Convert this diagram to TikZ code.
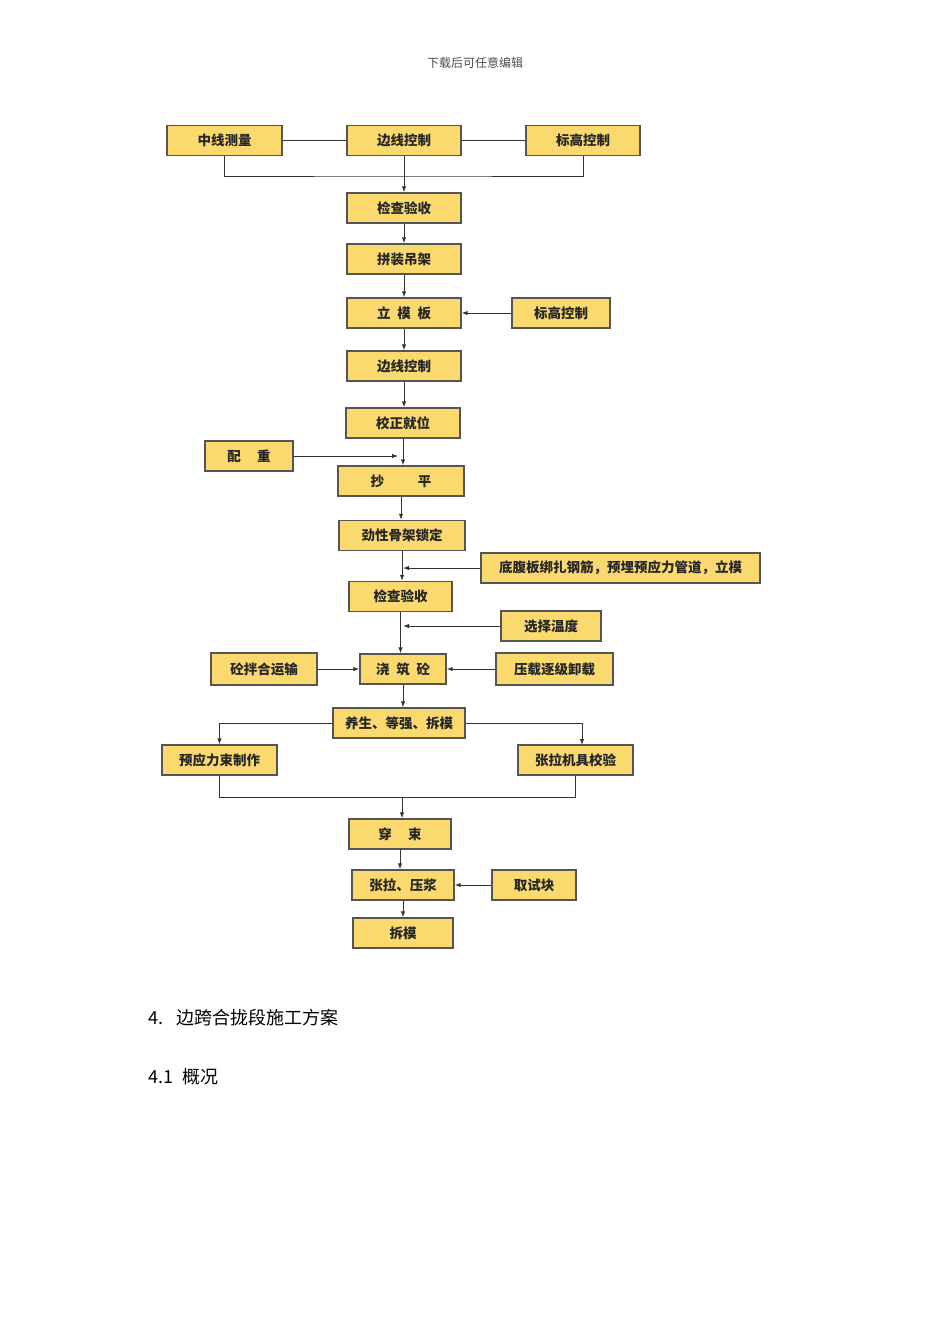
\documentclass[tikz,border=0pt]{standalone}
\usepackage{fontspec}
\setmainfont{Noto Sans CJK SC}
\usetikzlibrary{arrows.meta}
\definecolor{boxfill}{RGB}{250,217,110}
\definecolor{boxline}{RGB}{85,85,85}

\begin{document}
\begin{tikzpicture}[x=1pt,y=-1pt,>={Latex[length=6pt,width=4.5pt]},
  box/.style={draw=boxline,line width=1.4pt,fill=boxfill,inner sep=0pt,minimum height=30pt,font=\fontsize{13.5}{15}\selectfont\bfseries,text=black!85},
  link/.style={draw=black!80,line width=1pt}]
\useasboundingbox (0,0) rectangle (950,1344);
\node (header) at (475,63) [font=\fontsize{12}{14}\selectfont,text=black!70] {下载后可任意编辑};
\node (survey) at (224.5,140.5) [box,minimum width=115pt] {中线测量};
\node (edgeA) at (404,140.5) [box,minimum width=114pt] {边线控制};
\node (levelA) at (583,140.5) [box,minimum width=114pt] {标高控制};
\node (checkA) at (404,208) [box,minimum width=114pt] {检查验收};
\node (hanger) at (404,259) [box,minimum width=114pt] {拼装吊架};
\node (form) at (404,313) [box,minimum width=114pt] {立\enspace 模\enspace 板};
\node (levelB) at (561,313) [box,minimum width=98pt] {标高控制};
\node (edgeB) at (404,366) [box,minimum width=114pt] {边线控制};
\node (adjust) at (403,423) [box,minimum width=114pt] {校正就位};
\node (weight) at (249,456) [box,minimum width=88pt] {配\hspace{1.2em}重};
\node (level) at (401,481) [box,minimum width=126pt] {抄\hspace{2.5em}平};
\node (lock) at (402,535.5) [box,minimum width=126pt] {劲性骨架锁定};
\node (rebar) at (620.5,568) [box,minimum width=279pt] {底腹板绑扎钢筋，预埋预应力管道，立模};
\node (checkB) at (400.5,596.5) [box,minimum width=103pt] {检查验收};
\node (temp) at (551,626) [box,minimum width=100pt] {选择温度};
\node (pour) at (403,669) [box,minimum width=86pt] {浇\enspace 筑\enspace 砼};
\node (mix) at (264,669) [box,minimum width=106pt,minimum height=32pt] {砼拌合运输};
\node (unload) at (554.5,669) [box,minimum width=117pt,minimum height=32pt] {压载逐级卸载};
\node (cure) at (399,723) [box,minimum width=132pt] {养生、等强、拆模};
\node (tendon) at (219.5,760) [box,minimum width=115pt] {预应力束制作};
\node (jack) at (575.5,760) [box,minimum width=115pt] {张拉机具校验};
\node (thread) at (400,834) [box,minimum width=102pt] {穿\hspace{1.2em}束};
\node (stress) at (403,885) [box,minimum width=102pt] {张拉、压浆};
\node (sample) at (534,885) [box,minimum width=84pt] {取试块};
\node (strip) at (403,933) [box,minimum width=100pt] {拆模};
\node (sec) at (145,1018) [anchor=west,font=\fontsize{18}{20}\selectfont] {4.\hspace{0.7em}边跨合拢段施工方案};
\node (subsec) at (145,1077) [anchor=west,font=\fontsize{18}{20}\selectfont] {4.1\hspace{0.5em}概况};
\coordinate (joinA) at (402,176);
\coordinate (weightin) at (398,456);
\coordinate (rebarin) at (403,568);
\coordinate (tempin) at (403,626);
\coordinate (joinB) at (402,797);
\coordinate (jackin) at (582,745);
\draw[link] (survey) -- (edgeA);
\draw[link] (edgeA) -- (levelA);
\draw[link] (survey.south) |- (joinA) -| (levelA.south);
\draw[link,->] (edgeA.south) -- (edgeA.south |- checkA.north);
\draw[link,->] (checkA) -- (hanger);
\draw[link,->] (hanger) -- (form);
\draw[link,->] (levelB) -- (form);
\draw[link,->] (form) -- (edgeB);
\draw[link,->] (edgeB.south) -- (edgeB.south |- adjust.north);
\draw[link,->] (adjust.south) -- (adjust.south |- level.north);
\draw[link,->] (weight) -- (weightin);
\draw[link,->] (level.south) -- (level.south |- lock.north);
\draw[link,->] (lock.south) -- (lock.south |- checkB.north);
\draw[link,->] (rebar) -- (rebarin);
\draw[link,->] (checkB.south) -- (checkB.south |- pour.north);
\draw[link,->] (temp) -- (tempin);
\draw[link,->] (mix) -- (pour);
\draw[link,->] (unload) -- (pour);
\draw[link,->] (pour.south) -- (pour.south |- cure.north);
\draw[link,->] (cure.west) -| (tendon.north);
\draw[link,->] (cure.east) -| (jackin);
\draw[link] (tendon.south) |- (joinB) -| (jack.south);
\draw[link,->] (joinB) -- (joinB |- thread.north);
\draw[link,->] (thread.south) -- (thread.south |- stress.north);
\draw[link,->] (sample) -- (stress);
\draw[link,->] (stress) -- (strip);
\end{tikzpicture}
\end{document}
